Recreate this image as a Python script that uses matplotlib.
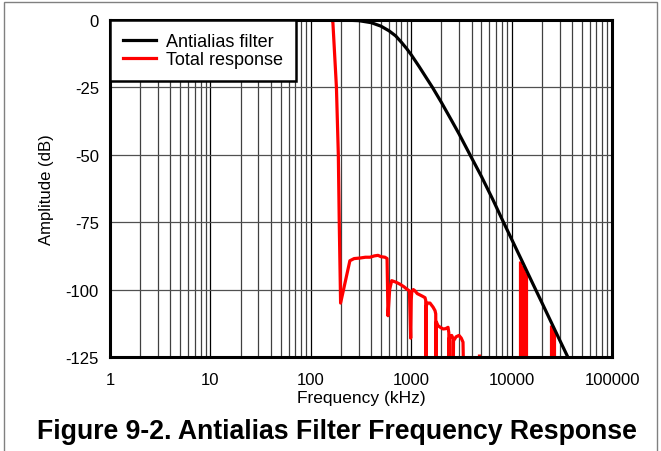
import numpy as np
import matplotlib
matplotlib.use("Agg")
import matplotlib.pyplot as plt
from matplotlib.patches import Rectangle
from matplotlib.ticker import FixedLocator, LogLocator, NullFormatter

plt.rcParams['font.family'] = ['Liberation Sans', 'DejaVu Sans']

# antialias filter (kHz, dB)
filt_f = [1, 100, 200, 300, 400, 500, 600, 700, 800, 900, 1000, 1200, 1400, 1628,
          2000, 2500, 3000, 3850, 5000, 6500, 8100, 10000, 13000, 16300, 20000,
          25000, 30000, 35000, 40000]
filt_db = [0, 0, 0, -0.25, -1.0, -2.3, -4.0, -5.9, -8.3, -10.6, -12.9, -17.3, -21.2, -25,
           -30.6, -37, -42.3, -50, -58, -66.6, -74.2, -81.3, -90.2, -97.9, -104.8,
           -112.4, -118.6, -123.8, -128.3]

# total response (kHz, dB); values below -125 run off the axis
tot_f = [150, 163, 166, 180, 188, 192, 198, 245, 270, 309, 350, 389, 430, 467, 500, 548,
         575, 587, 610, 639, 700, 773, 850, 902, 960, 988, 1000, 1012, 1050, 1091, 1150,
         1224, 1300, 1372, 1395, 1404, 1415, 1450, 1538, 1650, 1726, 1755, 1766, 1780,
         1849, 1950, 2074, 2200, 2327, 2370, 2379, 2395, 2470, 2531, 2600, 2609, 2640,
         2800, 2992, 3150, 3280, 3357, 3400, 4000]
tot_db = [0, 0, -1, -25, -50, -75, -105, -89.3, -88.5, -88.3, -88.0, -88.0, -87.5, -87.3, -87.8, -88.0,
          -88.5, -109.7, -100, -96.7, -97.2, -98, -99, -99.8, -100.5, -118, -104, -101, -100, -100.5, -101.5,
          -102, -102.5, -103, -104, -140, -106, -105, -105, -106.5, -107.8, -109, -140, -112,
          -113.4, -114, -114.6, -114.5, -114, -116, -140, -118, -117.5, -117, -118, -140, -119,
          -117.5, -117, -118, -119.5, -140, -140, -140]

# aliased images near the top of the band
spike_f = [4733, 12200, 12600, 13000, 13400, 13800, 24700, 25500, 26300]
spike_top = [-124, -89.5, -91, -92, -93, -94, -113, -114, -115]

xticks = [1, 10, 100, 1000, 10000, 100000]
yticks = [0, -25, -50, -75, -100, -125]

fig = plt.figure(figsize=(6.61, 4.52), dpi=100)
ax = fig.add_axes([0.1664, 0.2080, 0.7595, 0.7456])

ax.plot(filt_f, filt_db, color='black', lw=2.3, zorder=3, label='Antialias filter')
ax.plot(tot_f, tot_db, color='#ff0000', lw=2.3, zorder=2.5, label='Total response')
ax.vlines(spike_f, -140, spike_top, color='#ff0000', lw=2.3, zorder=2.5)

ax.set_xscale('log')
ax.set_xlim(1, 100000)
ax.set_ylim(-125, 0)
ax.xaxis.set_major_locator(FixedLocator(xticks))
ax.set_xticklabels([str(t) for t in xticks])
ax.xaxis.set_minor_locator(LogLocator(base=10, subs=np.arange(2, 10)))
ax.xaxis.set_minor_formatter(NullFormatter())
ax.set_yticks(yticks)
ax.set_yticklabels([str(t) for t in yticks])
ax.tick_params(which='both', length=0, labelsize=12)
ax.tick_params(axis='x', pad=11)
ax.tick_params(axis='y', pad=8)

ax.grid(True, which='major', axis='x', color='black', lw=0.9)
ax.grid(True, which='minor', axis='x', color='#404040', lw=0.9)
ax.grid(True, which='major', axis='y', color='#505050', lw=0.9)
ax.set_axisbelow(True)

for s in ax.spines.values():
    s.set_linewidth(2.2)
    s.set_zorder(4)

ax.set_xlabel('Frequency (kHz)', fontsize=12.5, labelpad=2)
ax.set_ylabel('Amplitude (dB)', fontsize=12, labelpad=8)

leg = ax.legend(loc='upper left', bbox_to_anchor=(0, 1), borderaxespad=0,
                fancybox=False, framealpha=1, edgecolor='black', fontsize=13,
                handlelength=1.85, handletextpad=0.55, labelspacing=0.05,
                borderpad=0.72)
leg.get_frame().set_linewidth(1.8)
leg.set_zorder(5)

fig.text(0.51, 0.044, 'Figure 9-2. Antialias Filter Frequency Response',
         ha='center', va='center', fontsize=19.2, fontweight='bold')

fig.patches.append(Rectangle((4 / 661, -0.01), 653 / 661, 1 - 3 / 452 + 0.01,
                             transform=fig.transFigure, fill=False,
                             edgecolor='#808080', lw=1))

fig.savefig('out.png', dpi=100)
